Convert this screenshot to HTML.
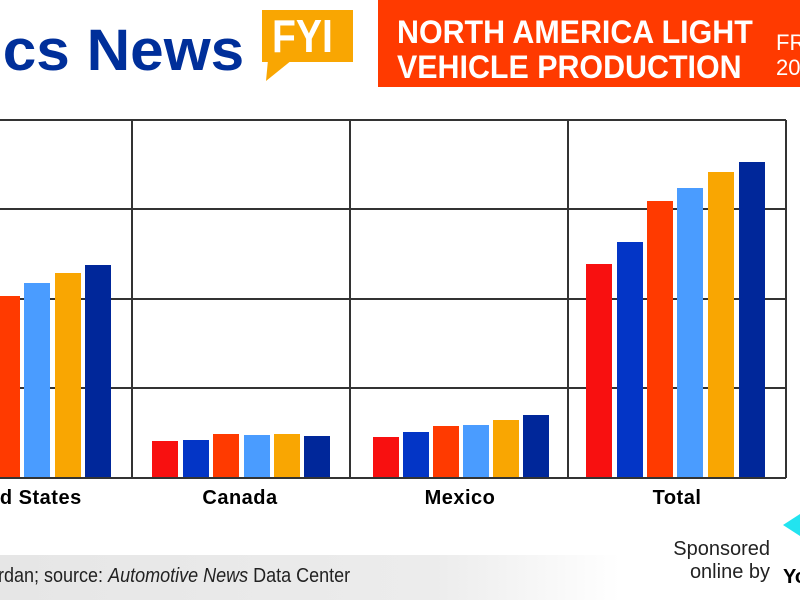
<!DOCTYPE html><html><head><style>
body{margin:0;width:800px;height:600px;overflow:hidden;background:#fff;position:relative;font-family:"Liberation Sans",sans-serif}
.a{position:absolute}
.lab{position:absolute;top:487px;font-weight:bold;font-size:20px;text-align:center;width:218px;letter-spacing:0.5px}
</style></head><body>
<div class="a" style="left:-14px;top:17px;font-size:58px;font-weight:bold;color:#002f9a;transform:scaleX(1.04);transform-origin:left;white-space:nowrap">ics News</div>
<div class="a" style="left:262px;top:10px;width:91px;height:52px;background:#f9a602"></div>
<svg class="a" style="left:262px;top:60px" width="40" height="25"><polygon points="6,0 30,0 4,21" fill="#f9a602"/></svg>
<div class="a" style="left:272px;top:9px;font-size:46px;font-weight:bold;color:#fff;transform:scaleX(0.85);transform-origin:left">FYI</div>
<div class="a" style="left:378px;top:0;width:422px;height:87px;background:#ff3a00"></div>
<div class="a" style="left:397px;top:15px;font-size:32px;line-height:35px;font-weight:bold;color:#fff;transform:scaleX(0.95);transform-origin:left;white-space:nowrap">NORTH AMERICA LIGHT<br>VEHICLE PRODUCTION</div>
<div class="a" style="left:776px;top:30px;font-size:22px;line-height:25px;color:#fff">FR<br>20</div>
<svg class="a" style="left:0;top:0" width="800" height="600">
<g stroke="#333" stroke-width="2" fill="none">
<line x1="0" y1="120" x2="786" y2="120"/><line x1="0" y1="209" x2="786" y2="209"/><line x1="0" y1="299" x2="786" y2="299"/><line x1="0" y1="388" x2="786" y2="388"/><line x1="0" y1="478" x2="786" y2="478"/>
<line x1="132" y1="120" x2="132" y2="478"/><line x1="350" y1="120" x2="350" y2="478"/><line x1="568" y1="120" x2="568" y2="478"/><line x1="786" y1="120" x2="786" y2="478"/>
</g>
<g>
<rect x="-6" y="296" width="26" height="181" fill="#ff3a00"/><rect x="24" y="283" width="26" height="194" fill="#4a9cff"/><rect x="55" y="273" width="26" height="204" fill="#f9a602"/><rect x="85" y="265" width="26" height="212" fill="#00279a"/>
<rect x="152" y="441" width="26" height="36" fill="#f81010"/><rect x="183" y="440" width="26" height="37" fill="#0335c6"/><rect x="213" y="434" width="26" height="43" fill="#ff3a00"/><rect x="244" y="435" width="26" height="42" fill="#4a9cff"/><rect x="274" y="434" width="26" height="43" fill="#f9a602"/><rect x="304" y="436" width="26" height="41" fill="#00279a"/>
<rect x="373" y="437" width="26" height="40" fill="#f81010"/><rect x="403" y="432" width="26" height="45" fill="#0335c6"/><rect x="433" y="426" width="26" height="51" fill="#ff3a00"/><rect x="463" y="425" width="26" height="52" fill="#4a9cff"/><rect x="493" y="420" width="26" height="57" fill="#f9a602"/><rect x="523" y="415" width="26" height="62" fill="#00279a"/>
<rect x="586" y="264" width="26" height="213" fill="#f81010"/><rect x="617" y="242" width="26" height="235" fill="#0335c6"/><rect x="647" y="201" width="26" height="276" fill="#ff3a00"/><rect x="677" y="188" width="26" height="289" fill="#4a9cff"/><rect x="708" y="172" width="26" height="305" fill="#f9a602"/><rect x="739" y="162" width="26" height="315" fill="#00279a"/>
</g>
<polygon points="783,525 800,514 800,536" fill="#22e4f0"/>
</svg>
<div class="lab" style="left:-74px">ed States</div>
<div class="lab" style="left:131px">Canada</div>
<div class="lab" style="left:351px">Mexico</div>
<div class="lab" style="left:568px">Total</div>
<div class="a" style="left:0;top:555px;width:620px;height:45px;background:linear-gradient(90deg,#e6e6e6,#ececec 70%,#fff)"></div>
<div class="a" style="left:-2px;top:565px;font-size:20px;color:#222;transform:scaleX(0.9);transform-origin:left;white-space:nowrap">rdan; source: <i>Automotive News</i> Data Center</div>
<div class="a" style="left:630px;top:538px;width:140px;text-align:right;font-size:20px;line-height:23px;color:#222">Sponsored<br>online by</div>
<div class="a" style="left:783px;top:566px;font-size:20px;font-weight:bold">Yo</div>
</body></html>
